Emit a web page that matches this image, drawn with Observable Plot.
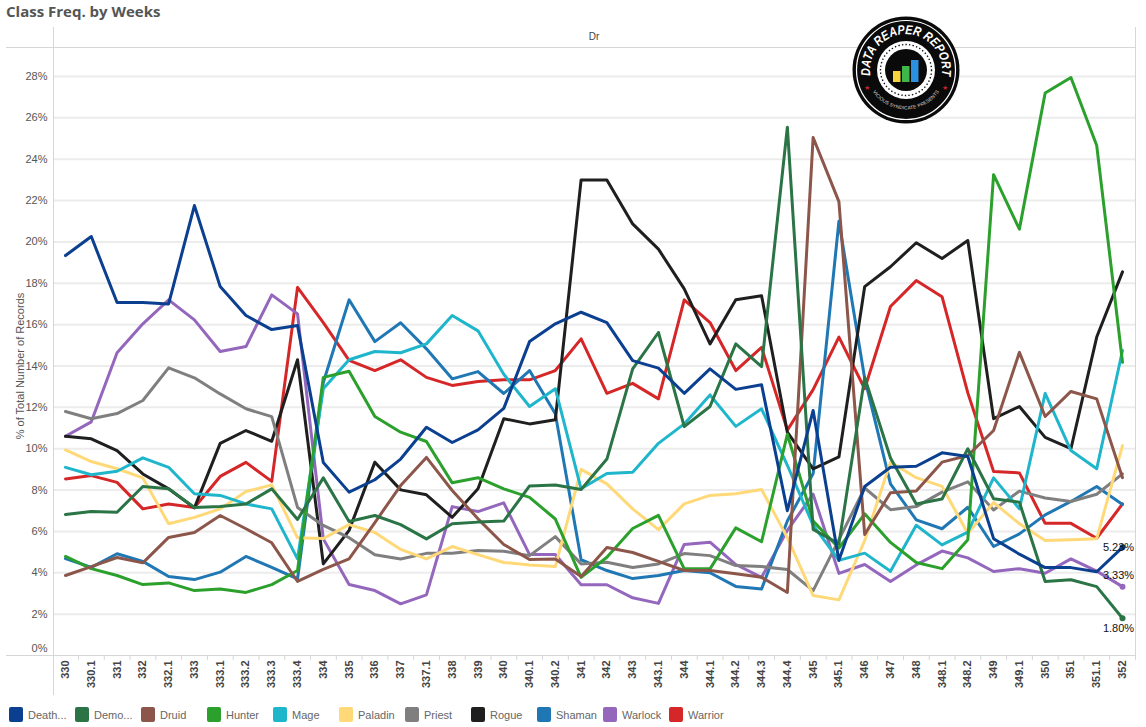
<!DOCTYPE html>
<html>
<head>
<meta charset="utf-8">
<script src="https://cdn.jsdelivr.net/npm/d3@7"></script>
<script src="https://cdn.jsdelivr.net/npm/@observablehq/plot@0.6"></script>
<style>
  html, body { margin: 0; padding: 0; background: #fff; }
  #page { position: relative; width: 1146px; height: 727px; overflow: hidden; font-family: "Liberation Sans", Arial, sans-serif; }
  #title { height: 22px; padding-left: 6px; font: bold 15px/22px "Open Sans", sans-serif; color: #555; }
  .frame { position: absolute; background: #d6d6d6; }
  #header { position: absolute; left: 53px; width: 1082px; top: 31px; text-align: center; font-size: 10px; color: #444; }
  #legend { position: absolute; left: 9px; top: 707px; display: flex; }
  .item { width: 66px; display: flex; align-items: center; font-size: 11px; color: #666; white-space: nowrap; }
  .swatch { width: 14px; height: 15px; border-radius: 2px; margin-right: 5px; flex: none; }
  #logo { position: absolute; left: 851px; top: 15px; }
  #chart svg { display: block; }
</style>
</head>
<body>
<div id="page">
  <div id="title">Class Freq. by Weeks</div>
  <div id="chart"></div>
  <div class="frame" style="left:53px;top:27px;width:1px;height:668px"></div>
  <div class="frame" style="left:1135px;top:27px;width:1px;height:628px"></div>
  <div class="frame" style="left:6px;top:47px;width:1130px;height:1px"></div>
  <div class="frame" style="left:6px;top:655px;width:1130px;height:1px"></div>
  <div id="header">Dr</div>
  <svg id="logo" width="110" height="110" viewBox="-55 -55 110 110">
    <defs>
      <path id="arcTop" d="M -32.4 15.8 A 36 36 0 1 1 32.4 15.8"/>
      <path id="arcBottom" d="M -33 22 A 40 40 0 0 0 33 22"/>
    </defs>
    <circle r="53.5" fill="#0a0a0a"/>
    <circle r="49.5" fill="none" stroke="#fff" stroke-width="1.2"/>
    <text font-family="Liberation Sans" font-weight="bold" font-style="italic" font-size="13" fill="#fff" text-anchor="middle"><textPath href="#arcTop" startOffset="50%" textLength="124" lengthAdjust="spacingAndGlyphs">DATA REAPER REPORT</textPath></text>
    <text font-family="Liberation Sans" font-size="4.8" fill="#ddd" letter-spacing="0.1" text-anchor="middle"><textPath href="#arcBottom" startOffset="50%">VICIOUS SYNDICATE PRESENTS</textPath></text>
    <text x="-39" y="20" font-size="7" fill="#c8202a" text-anchor="middle">★</text>
    <text x="39" y="20" font-size="7" fill="#c8202a" text-anchor="middle">★</text>
    <circle r="29" fill="#fff"/>
    <circle r="25.5" fill="none" stroke="#111" stroke-width="1.4" stroke-dasharray="1.4 2.2"/>
    <circle r="21" fill="#0a0a0a"/>
    <rect x="-13" y="1" width="7.5" height="11" fill="#f6d33c"/>
    <rect x="-4" y="-4" width="7.5" height="16" fill="#3fb54a"/>
    <rect x="5" y="-10" width="7.5" height="22" fill="#2d8fe0"/>
  </svg>
  <div id="legend"></div>
</div>
<script>
const weeks = ["330","330.1","331","332","332.1","333","333.1","333.2","333.3","333.4","334","335","336","337","337.1","338","339","340","340.1","340.2","341","342","343","343.1","344","344.1","344.2","344.3","344.4","345","345.1","346","347","348","348.1","348.2","349","349.1","350","351","351.1","352"];

const deathKnight = [19.34,20.26,17.07,17.07,17.0,21.76,17.84,16.44,15.76,15.96,9.33,7.9,8.5,9.5,11.04,10.3,10.91,11.95,15.18,16.04,16.6,16.1,14.26,13.9,12.68,13.86,12.87,13.09,7.0,11.85,4.6,8.17,9.1,9.15,9.8,9.62,5.65,4.9,4.25,4.25,4.05,5.23];
const demonHunter = [6.82,6.96,6.93,8.17,8.06,7.16,7.2,7.33,8.06,6.58,8.59,6.48,6.77,6.33,5.64,6.37,6.45,6.5,8.2,8.25,8.03,9.5,13.86,15.62,11.07,12.04,15.07,13.97,25.55,6.1,5.4,13.45,9.55,7.33,7.57,10.0,7.58,7.41,3.58,3.66,3.33,1.80];
const druid = [3.87,4.3,4.74,4.48,5.71,5.95,6.77,6.13,5.45,3.58,4.16,4.67,6.43,8.22,9.58,7.98,6.61,5.37,4.64,4.67,3.82,5.22,4.98,4.55,4.11,4.11,3.95,3.78,3.05,25.05,21.95,5.85,7.87,7.95,9.35,9.67,10.88,14.66,11.56,12.77,12.41,8.6];
const hunter = [4.79,4.2,3.87,3.43,3.51,3.14,3.22,3.05,3.43,4.11,13.45,13.75,11.56,10.8,10.35,8.35,8.6,8.06,7.65,6.6,3.78,4.75,6.14,6.78,4.19,4.19,6.17,5.5,10.7,6.5,5.2,6.85,5.47,4.5,4.2,5.6,23.25,20.62,27.2,27.95,24.66,14.18];
const mage = [9.1,8.74,8.91,9.56,9.1,7.82,7.74,7.33,7.09,4.67,12.9,14.3,14.7,14.64,15.07,16.44,15.7,13.6,12.04,12.9,8.06,8.8,8.86,10.26,11.2,12.6,11.08,11.93,9.2,6.3,4.6,4.95,4.07,6.3,5.35,5.97,8.59,7.09,12.68,9.91,9.03,14.75];
const paladin = [9.94,9.38,9.03,8.59,6.37,6.68,7.09,7.93,8.25,5.69,5.66,6.33,5.95,5.13,4.67,5.27,4.88,4.5,4.38,4.3,9.0,8.3,7.09,6.09,7.33,7.74,7.82,8.03,5.7,2.9,2.69,5.56,9.35,8.6,8.18,5.9,7.4,6.37,5.56,5.6,5.65,10.15];
const priest = [11.8,11.45,11.7,12.33,13.91,13.43,12.65,11.93,11.55,7.16,6.29,5.7,4.87,4.67,4.94,4.94,5.08,5.04,4.83,5.75,4.43,4.51,4.26,4.43,4.93,4.83,4.35,4.3,4.16,3.14,5.6,8.1,7.05,7.2,7.9,8.4,7.04,7.95,7.62,7.45,7.8,8.78];
const rogue = [10.6,10.48,9.91,8.78,8.06,7.14,10.26,10.88,10.36,14.3,4.43,6.05,9.35,8.01,7.77,6.68,8.06,11.45,11.2,11.4,23.0,23.0,20.87,19.65,17.73,15.07,17.2,17.4,10.8,9.03,9.6,17.84,18.8,19.96,19.2,20.07,11.45,12.04,10.55,10.0,15.4,18.55];
const shaman = [4.69,4.26,4.92,4.55,3.82,3.67,4.03,4.79,4.26,3.7,13.2,17.2,15.18,16.09,14.83,13.38,13.73,12.67,13.78,11.69,4.63,4.11,3.72,3.87,4.11,4.0,3.34,3.22,6.5,8.8,21.0,13.4,8.3,6.56,6.13,7.17,5.27,5.88,6.8,7.45,8.17,7.3];
const warlock = [10.6,11.3,14.64,16.04,17.2,16.23,14.7,14.94,17.44,16.52,5.64,3.43,3.14,2.5,2.93,7.2,6.96,7.38,4.88,4.88,3.42,3.42,2.79,2.52,5.37,5.48,4.4,3.78,6.05,7.8,3.97,4.4,3.58,4.38,5.05,4.72,4.06,4.2,3.98,4.67,4.08,3.33];
const warrior = [8.54,8.7,8.37,7.09,7.33,7.16,8.66,9.34,8.42,17.8,16.1,14.27,13.78,14.3,13.45,13.06,13.25,13.33,13.33,13.78,15.31,12.68,13.16,12.41,17.2,16.1,13.78,14.9,10.9,12.86,15.4,12.9,16.88,18.13,17.35,12.7,8.9,8.83,6.39,6.39,5.67,7.33];

const classNames = ["Death...","Demo...","Druid","Hunter","Mage","Paladin","Priest","Rogue","Shaman","Warlock","Warrior"];
const classColors = ["#0b3f8f","#2a7446","#8c564b","#2ca02c","#1fb6cb","#ffd978","#7f7f7f","#1f1f1f","#1f77b4","#9467bd","#d62728"];
const classValues = [deathKnight,demonHunter,druid,hunter,mage,paladin,priest,rogue,shaman,warlock,warrior];
const yTicks = [2,4,6,8,10,12,14,16,18,20,22,24,26,28];
const endLabelled = [{name:"Death...",dy:0},{name:"Warlock",dy:-11},{name:"Demo...",dy:10}];

// Long table: drawn last-to-first so the first legend entries sit on top.
const table = classNames.flatMap((name, i) => weeks.map((week, j) => ({week, name, value: classValues[i][j]}))).reverse();
const lastWeek = weeks[weeks.length - 1];
const pct = d => d + "%";

const endMarks = endLabelled.flatMap(({name, dy}) => {
  const rows = table.filter(d => d.name === name && d.week === lastWeek);
  return [
    Plot.dot(rows, {x: "week", y: "value", fill: "name", r: 3}),
    Plot.text(rows, {x: "week", y: "value", text: d => d.value.toFixed(2) + "%", dx: -4, dy, fill: "#111", fontSize: 11})
  ];
});

const chart = Plot.plot({
  width: 1146,
  height: 680,
  marginLeft: 53,
  marginRight: 11,
  marginTop: 54,
  marginBottom: 47,
  style: {fontFamily: '"Liberation Sans", Arial, sans-serif', fontSize: "11px", background: "transparent", overflow: "visible"},
  x: {type: "point", domain: weeks, range: [65, 1122], padding: 0},
  y: {domain: [0, 28], range: [633, 54]},
  color: {domain: classNames, range: classColors},
  marks: [
    Plot.ruleY(yTicks, {stroke: "#ececec", strokeWidth: 2}),
    Plot.ruleX(weeks, {x: d => d, y1: 0, y2: -0.24, dx: 13, stroke: "#d6d6d6"}),
    Plot.axisY(yTicks, {tickSize: 0, tickPadding: 6, tickFormat: pct, fill: "#555", fontSize: 11,
      label: "% of Total Number of Records", labelAnchor: "center", labelArrow: "none", labelOffset: 37}),
    Plot.axisY([0], {tickSize: 0, tickPadding: 6, tickFormat: pct, dy: -7, fill: "#555", fontSize: 11, label: null}),
    Plot.axisX(weeks, {tickRotate: -90, tickSize: 0, tickPadding: 5, label: null, fill: "#444", fontWeight: "bold", fontSize: 11}),
    Plot.line(table, {x: "week", y: "value", stroke: "name", strokeWidth: 3, strokeLinejoin: "round"}),
    ...endMarks
  ]
});
document.getElementById("chart").appendChild(chart);

const legend = document.getElementById("legend");
classNames.forEach((name, i) => {
  const item = document.createElement("div");
  item.className = "item";
  const swatch = document.createElement("span");
  swatch.className = "swatch";
  swatch.style.background = classColors[i];
  const label = document.createElement("span");
  label.textContent = name;
  item.append(swatch, label);
  legend.appendChild(item);
});
</script>
</body>
</html>
